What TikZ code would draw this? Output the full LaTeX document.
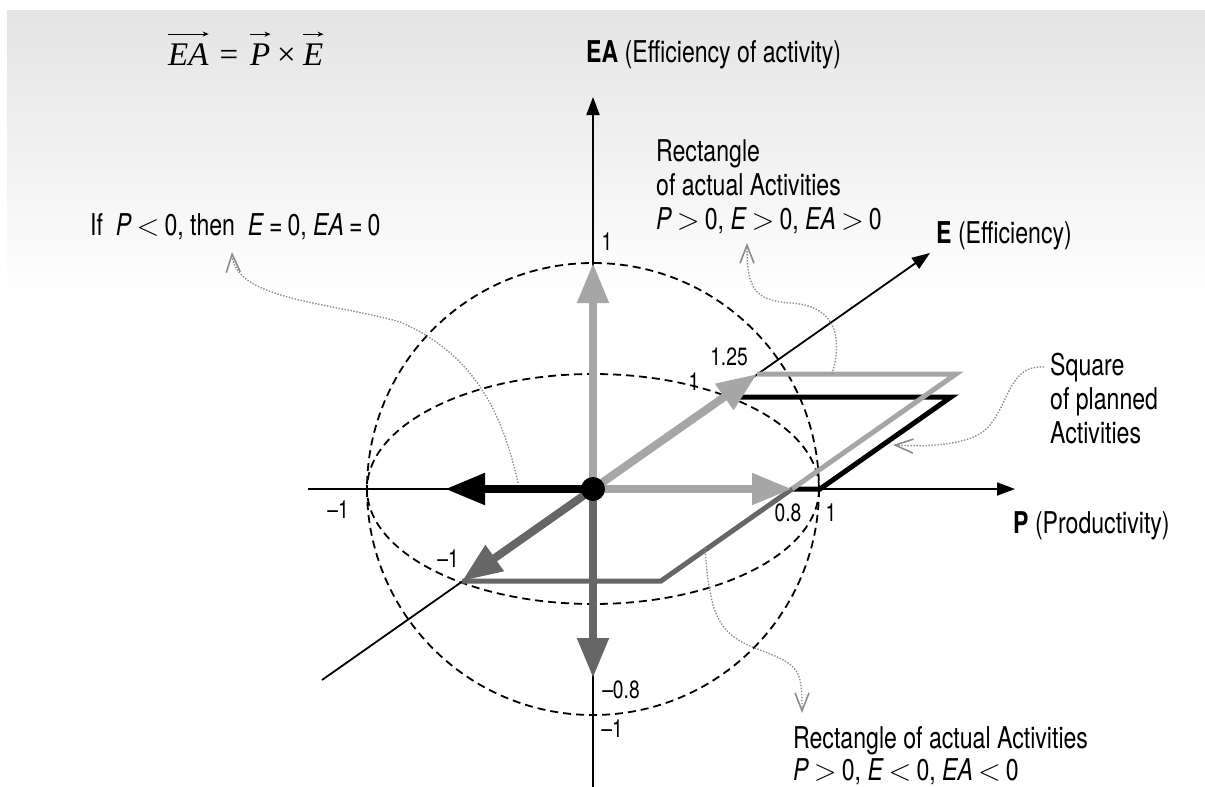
\documentclass[tikz,border=0pt]{standalone}
\usepackage{fix-cm}
\usepackage{fontspec}
\setmainfont{TeX Gyre Heros}[FakeStretch=0.77]
\newfontfamily\seriffont{Liberation Serif}
\usetikzlibrary{arrows.meta}
\definecolor{lgrey}{HTML}{A6A6A6}
\definecolor{dgrey}{HTML}{666666}
\definecolor{dotgrey}{HTML}{8C8C8C}
\definecolor{bgtop}{HTML}{E4E4E4}
\newcommand{\lt}{\,\(<\)\,}
\newcommand{\gt}{\,\(>\)\,}
\newcommand{\eqs}{\,=\,}
\begin{document}
\begin{tikzpicture}[x=1pt,y=-1pt,
  txt/.style={font=\fontsize{30}{34}\selectfont, inner sep=0pt},
  numlab/.style={font=\fontsize{25}{30}\selectfont, inner sep=0pt},
  ftxt/.style={font=\seriffont\fontsize{33}{40}\selectfont, inner sep=0pt},
  vecarr/.style={line width=1pt, -{Stealth[length=6pt,width=5pt]}},
  axisline/.style={line width=1.8pt, -{Triangle[length=18pt,width=13pt]}},
  sphereline/.style={line width=1.8pt, dash pattern=on 8pt off 5pt},
  bigarrow/.style={line width=8pt, -{Triangle[length=40pt,width=30pt]}},
  edgeline/.style={line width=5pt, line join=miter},
  noteline/.style={dotgrey, line width=1.4pt, dash pattern=on 1.4pt off 1.6pt,
     -{Straight Barb[length=18pt,width=14pt,line width=1.6pt]}}
]
\useasboundingbox (0,0) rectangle (1205,787);
\shade[top color=bgtop, bottom color=white] (7,10) rectangle (1205,300);

% key points
\coordinate (O) at (593,489);
\coordinate (Pneg) at (308,489);
\coordinate (Pend) at (1015,489);
\coordinate (EAbot) at (593,787);
\coordinate (EAtop) at (593,97);
\coordinate (Eneg) at (322,680);
\coordinate (Eend) at (930,253);
\coordinate (P08) at (792,489);
\coordinate (P1) at (820,489);
\coordinate (E1) at (724,397);
\coordinate (E125) at (757,374);
\coordinate (En1) at (462,581);
\coordinate (EAp) at (593,263);
\coordinate (EAn) at (593,678);
\coordinate (Pn) at (445,489);
\coordinate (SqTR) at (951,397);
\coordinate (RpTR) at (956,374);
\coordinate (RnBR) at (661,581);

% sphere
\draw[sphereline] (O) circle [radius=226];
\draw[sphereline] (O) ellipse [x radius=226, y radius=115];

% axes
\draw[axisline] (Pneg) -- (Pend);
\draw[axisline] (EAbot) -- (EAtop);
\draw[axisline] (Eneg) -- (Eend);

% parallelograms
\draw[edgeline, black] (P08) -- (P1) -- (SqTR) -- (E1);
\draw[edgeline, lgrey] (P08) -- (RpTR) -- (E125);
\draw[edgeline, dgrey] (P08) -- (RnBR) -- (En1);

% vectors
\draw[bigarrow, lgrey] (O) -- (EAp);
\draw[bigarrow, lgrey] (O) -- (P08);
\draw[bigarrow, lgrey] (O) -- (E125);
\draw[bigarrow, dgrey] (O) -- (EAn);
\draw[bigarrow, dgrey] (O) -- (En1);
\draw[bigarrow, black] (O) -- (Pn);
\fill[black] (O) circle [radius=12];

% formula
\node[ftxt, anchor=base west] (fEA) at (168,65) {\itshape EA};
\node[ftxt, anchor=base] (feq) at (229,65) {=};
\node[ftxt, anchor=base west] (fP) at (250,65) {\itshape P};
\node[ftxt, anchor=base] (ftimes) at (286.5,65) {×};
\node[ftxt, anchor=base west] (fE) at (303,65) {\itshape E};
\draw[vecarr] ([yshift=9pt]fEA.north west) -- ([yshift=9pt]fEA.north east);
\draw[vecarr] ([yshift=9pt]fP.north west) -- ([yshift=9pt]fP.north east);
\draw[vecarr] ([yshift=9pt]fE.north west) -- ([yshift=9pt]fE.north east);

% texts
\node[txt, anchor=base west] (ifnote) at (90,235) {If\ \ \textit{P}\lt 0,\ then\ \ \textit{E}\eqs 0, \textit{EA}\eqs 0};
\node[txt, anchor=base west] (EAlab) at (586,62) {\textbf{EA} (Efficiency of activity)};
\node[txt, anchor=base west] (Elab) at (936,243) {\textbf{E} (Efficiency)};
\node[txt, anchor=base west] (Plab) at (1013,533) {\textbf{P} (Productivity)};
\node[txt, anchor=north west, align=left] (rectpos) at (656,139)
  {Rectangle\\of actual Activities\\\textit{P}\gt 0, \textit{E}\gt 0, \textit{EA}\gt 0};
\node[txt, anchor=north west, align=left] (square) at (1050,353)
  {Square\\of planned\\Activities};
\node[txt, font=\fontsize{30}{32}\selectfont, anchor=north west, align=left] (rectneg) at (793,726)
  {Rectangle of actual Activities\\\textit{P}\gt 0, \textit{E}\lt 0, \textit{EA}\lt 0};

% numbers
\node[numlab] (lEA1) at (607,242) {1};
\node[numlab] (lE125) at (729,357) {1.25};
\node[numlab] (lE1) at (694,382) {1};
\node[numlab] (lP08) at (788,513) {0.8};
\node[numlab] (lP1) at (831,513) {1};
\node[numlab] (lPn1) at (338,510) {–1};
\node[numlab] (lEn1) at (448,559) {–1};
\node[numlab] (lEAn08) at (621,690) {–0.8};
\node[numlab] (lEAn1) at (612,729) {–1};

% dotted pointers
\coordinate (nA0) at (518,483);
\coordinate (nA1) at (232,252);
\draw[noteline] (nA0) .. controls (500,400) and (465,350) .. (400,322)
  .. controls (330,302) and (235,300) .. (nA1);
\coordinate (nB0) at (832,374);
\coordinate (nB1) at (747,243);
\draw[noteline] (nB0) .. controls (845,330) and (830,305) .. (790,303)
  .. controls (755,300) and (747,290) .. (nB1);
\coordinate (nC0) at (1044,367);
\coordinate (nC1) at (893,445);
\draw[noteline] (nC0) .. controls (1010,365) and (1010,400) .. (990,425)
  .. controls (975,445) and (930,447) .. (nC1);
\coordinate (nD0) at (705,548);
\coordinate (nD1) at (802,713);
\draw[noteline] (nD0) .. controls (710,620) and (720,635) .. (760,650)
  .. controls (800,665) and (802,670) .. (nD1);
\end{tikzpicture}
\end{document}
